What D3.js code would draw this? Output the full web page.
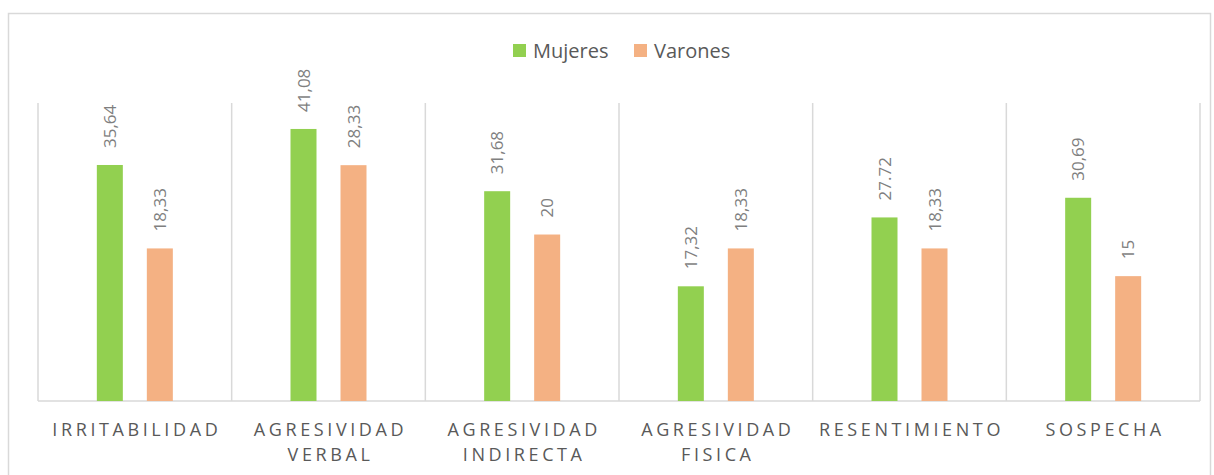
<!DOCTYPE html>
<html>
<head>
<meta charset="utf-8">
<script src="https://cdn.jsdelivr.net/npm/d3@7"></script>
<style>
  body { margin: 0; background: #fff; }
  svg text { font-family: "Open Sans", sans-serif; }
</style>
</head>
<body>
<div id="chart"></div>
<script>
const WIDTH = 1214;
const HEIGHT = 475;

const categories = ["IRRITABILIDAD", "AGRESIVIDAD VERBAL", "AGRESIVIDAD INDIRECTA", "AGRESIVIDAD FISICA", "RESENTIMIENTO", "SOSPECHA"];
const series = ["Mujeres", "Varones"];
const mujeres = [35.64, 41.08, 31.68, 17.32, 27.72, 30.69];
const varones = [18.33, 28.33, 20, 18.33, 18.33, 15];
// labels as printed in the original (one uses a point instead of a comma)
const mujeresLabels = ["35,64", "41,08", "31,68", "17,32", "27.72", "30,69"];
const varonesLabels = ["18,33", "28,33", "20", "18,33", "18,33", "15"];
const colors = ["#92D050", "#F4B183"];

const MARGIN = { top: 103, bottom: 74, left: 38, right: 14 };

const svg = d3.select("#chart").append("svg")
    .attr("width", WIDTH).attr("height", HEIGHT);

// outer frame
svg.append("rect")
    .attr("x", 8.5).attr("y", 13.5)
    .attr("width", 1202).attr("height", 475)
    .attr("fill", "none").attr("stroke", "#d9d9d9").attr("stroke-width", 1.5);

const x0 = d3.scaleBand()
    .domain(categories)
    .range([MARGIN.left, WIDTH - MARGIN.right])
    .padding(0);

const x1 = d3.scaleBand()
    .domain(series)
    .range([x0.bandwidth() / 2 - 38, x0.bandwidth() / 2 + 38])
    .paddingInner(0.48);

// each series on its own (hidden) axis, as in the original
const yM = d3.scaleLinear().domain([0, 45]).range([HEIGHT - MARGIN.bottom, MARGIN.top]);
const yV = d3.scaleLinear().domain([0, 35.8]).range([HEIGHT - MARGIN.bottom, MARGIN.top]);
const yScales = [yM, yV];
const values = [mujeres, varones];
const labels = [mujeresLabels, varonesLabels];

// category separators
const grid = svg.append("g").attr("stroke", "#d9d9d9").attr("stroke-width", 1.5);
const edges = categories.map(c => x0(c)).concat([WIDTH - MARGIN.right]);
grid.selectAll("line.sep").data(edges).join("line")
    .attr("class", "sep")
    .attr("x1", d => d).attr("x2", d => d)
    .attr("y1", MARGIN.top).attr("y2", HEIGHT - MARGIN.bottom);
grid.append("line")
    .attr("x1", MARGIN.left).attr("x2", WIDTH - MARGIN.right)
    .attr("y1", HEIGHT - MARGIN.bottom).attr("y2", HEIGHT - MARGIN.bottom);

// bars + labels
series.forEach((s, si) => {
    const g = svg.append("g");
    const data = categories.map((c, i) => ({ c: c, v: values[si][i], l: labels[si][i] }));
    const y = yScales[si];
    g.selectAll("rect").data(data).join("rect")
        .attr("x", d => x0(d.c) + x1(s))
        .attr("width", x1.bandwidth())
        .attr("y", d => y(d.v))
        .attr("height", d => y(0) - y(d.v))
        .attr("fill", colors[si]);
    g.selectAll("text").data(data).join("text")
        .attr("transform", d => `translate(${x0(d.c) + x1(s) + x1.bandwidth() / 2 + 6}, ${y(d.v) - 17}) rotate(-90)`)
        .attr("text-anchor", "start")
        .attr("font-size", 17)
        .attr("fill", "#7f7f7f")
        .text(d => d.l);
});

// category labels
const xAxis = svg.append("g");
categories.forEach(c => {
    const words = c.split(" ");
    const cx = x0(c) + x0.bandwidth() / 2 + 2;
    const t = xAxis.append("text")
        .attr("x", cx)
        .attr("y", 436)
        .attr("text-anchor", "middle")
        .attr("font-size", 18)
        .attr("letter-spacing", 3.6)
        .attr("fill", "#595959");
    words.forEach((w, i) => {
        t.append("tspan")
            .attr("x", cx)
            .attr("dy", i === 0 ? 0 : 25)
            .text(w);
    });
});

// legend
const legend = svg.append("g").attr("transform", "translate(513, 44)");
const legendX = [0, 121];
series.forEach((s, i) => {
    const item = legend.append("g").attr("transform", `translate(${legendX[i]}, 0)`);
    item.append("rect").attr("width", 13).attr("height", 13).attr("fill", colors[i]);
    item.append("text")
        .attr("x", 20).attr("y", 14)
        .attr("font-size", 20)
        .attr("fill", "#595959")
        .text(s);
});
</script>
</body>
</html>
